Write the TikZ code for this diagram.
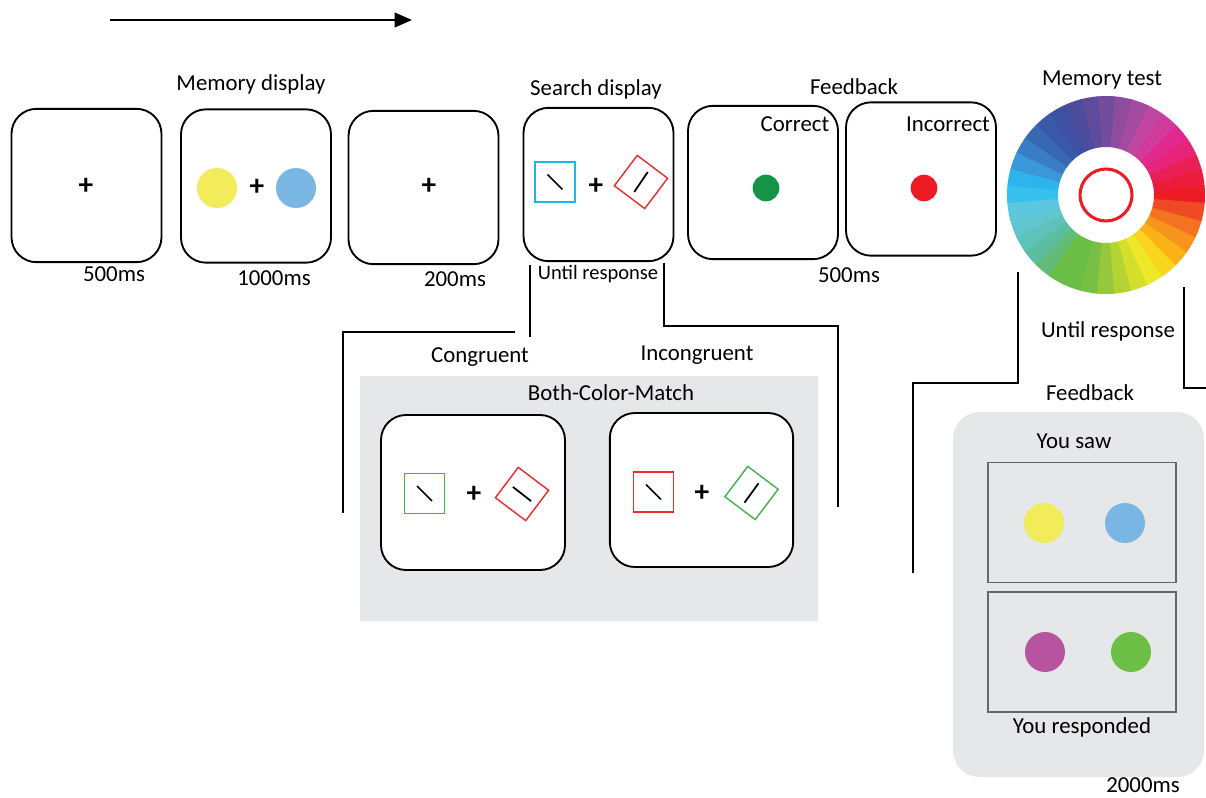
\documentclass[tikz,border=0pt]{standalone}
\usepackage{fontspec}
\setmainfont{Carlito}
\usetikzlibrary{arrows.meta}
\definecolor{memyellow}{HTML}{F2EC5B}
\definecolor{memblue}{HTML}{7AB6E3}
\definecolor{stimcyan}{HTML}{1FB5EA}
\definecolor{stimred}{HTML}{EE2B2E}
\definecolor{stimgreen}{HTML}{3FB54B}
\definecolor{okgreen}{HTML}{139447}
\definecolor{errred}{HTML}{ED1C24}
\definecolor{respmagenta}{HTML}{B8539F}
\definecolor{respgreen}{HTML}{6CBE45}
\definecolor{panelgray}{HTML}{E6E7E8}

\begin{document}
\begin{tikzpicture}[x=0.3mm,y=0.3mm,
	screen/.style={draw,line width=1.6pt,rounded corners=7.5mm,minimum width=45mm,minimum height=46mm,inner sep=0pt,fill=white},
	lbl/.style={font=\fontsize{19.5}{23}\selectfont,inner sep=0pt},
	fix/.style={font=\fontsize{25}{28}\selectfont\bfseries,inner sep=0pt},
	memdot/.style={circle,inner sep=0pt,minimum size=12mm},
	fbdot/.style={circle,inner sep=0pt,minimum size=8mm},
	stimsq/.style={draw,line width=1.2pt,minimum size=12mm,inner sep=0pt},
	stimdia/.style={stimsq,minimum size=11.4mm,rotate=-37},
	bar/.style={line width=1.5pt},
	wire/.style={line width=1.6pt},
	frame/.style={draw=black!60,line width=1.4pt,minimum width=56.4mm,minimum height=36mm,inner sep=0pt}]
	\useasboundingbox (0,0) rectangle (1206,-798);

	% time arrow
	\coordinate (tstart) at (110,-20);
	\coordinate (tend) at (412,-20);
	\draw[wire,-{Triangle[length=5.2mm,width=4.4mm]}] (tstart) -- (tend);

	% fixation
	\node[screen] (fixA) at (86.5,-185.5) {};
	\node[fix] (plusA) at (86,-186) {+};
	\node[lbl] (durA) at (114,-274) {500ms};

	% memory display
	\node[lbl] (lblmem) at (251,-84) {Memory display};
	\node[screen] (mem) at (256,-186) {};
	\node[memdot,fill=memyellow] (memL) at (217,-188) {};
	\node[fix] (plusB) at (257,-187) {+};
	\node[memdot,fill=memblue] (memR) at (296,-188) {};
	\node[lbl] (durB) at (274,-278) {1000ms};

	% delay
	\node[screen] (delay) at (423.5,-187.5) {};
	\node[fix] (plusC) at (429,-186) {+};
	\node[lbl] (durC) at (455,-279) {200ms};

	% search display
	\node[lbl] (lblsearch) at (596,-89) {Search display};
	\node[screen] (srch) at (598.5,-184.5) {};
	\node[stimsq,draw=stimcyan] (srchsq) at (555,-182) {};
	\draw[bar] (srchsq.center) ++(135:10.5) -- ++(-45:21);
	\node[fix] (plusD) at (596,-186) {+};
	\node[stimdia,draw=stimred] (srchdia) at (641,-182) {};
	\draw[bar] (srchdia.center) ++(236:12) -- ++(56:24);
	\node[lbl,font=\fontsize{17.5}{21}\selectfont] (durD) at (598,-274) {Until response};

	% feedback
	\node[lbl] (lblfb) at (854,-87) {Feedback};
	\node[screen] (fbok) at (763,-182.5) {};
	\node[lbl] (lblok) at (795,-124) {Correct};
	\node[fbdot,fill=okgreen] (dotok) at (766,-188) {};
	\node[screen] (fberr) at (921,-179) {};
	\node[lbl] (lblerr) at (948,-124) {Incorrect};
	\node[fbdot,fill=errred] (doterr) at (924,-188) {};
	\node[lbl] (durE) at (849,-275) {500ms};

	% memory test wheel
	\node[lbl] (lbltest) at (1102,-80) {Memory test};
	\coordinate (wheel) at (1106,-195);
	\begin{scope}[shift={(wheel)}]
		\foreach \a/\c in {0/ED1C24,10/EC1C3A,20/EA1F55,30/E8237A,40/E0288E,50/D1399A,
			60/C0469F,70/A54B9F,80/8E4C9F,90/744C9E,100/5E4B9D,110/4C4C9E,
			120/3F4FA2,130/3A58A8,140/3867B3,150/3A7DC4,160/3A98D8,170/2DB4EC,
			180/35C2EE,190/5CC8E0,200/62C6D0,210/5EC2BA,220/5BBEA0,230/63BB78,
			240/6ABD45,250/6ABD45,260/78C043,270/95C83D,280/B5D334,290/D4DF2B,
			300/EEE82A,310/F9D51D,320/FBB216,330/F7941D,340/F37321,350/EF4A23}{
			\definecolor{wc}{HTML}{\c}
			\fill[wc] (\a-5.3:48) arc[start angle=\a-5.3,end angle=\a+5.3,radius=48]
				-- (\a+5.3:99) arc[start angle=\a+5.3,end angle=\a-5.3,radius=99] -- cycle;
		}
	\end{scope}
	\draw[errred,line width=2.6pt] (wheel) circle[radius=26];
	\node[lbl] (durF) at (1108,-331) {Until response};

	% search conditions
	\node[lbl] (lblcong) at (480,-357) {Congruent};
	\node[lbl] (lblincong) at (697,-355) {Incongruent};
	\fill[panelgray] (360,-376) rectangle (818,-621);
	\node[lbl] (lblboth) at (611,-393) {Both-Color-Match};
	\node[screen,minimum width=55.2mm,minimum height=46.5mm] (cong) at (473,-492.5) {};
	\node[stimsq,draw=stimgreen] (congsq) at (424.5,-493.5) {};
	\draw[bar] (congsq.center) ++(135:10.5) -- ++(-45:21);
	\node[fix] (plusE) at (474,-494) {+};
	\node[stimdia,draw=stimred] (congdia) at (522,-494) {};
	\draw[bar] (congdia.center) ++(142:11.5) -- ++(-38:23);
	\node[screen,minimum width=55mm,minimum height=46.2mm] (incong) at (701.5,-490) {};
	\node[stimsq,draw=stimred] (incongsq) at (653.5,-492) {};
	\draw[bar] (incongsq.center) ++(135:10.5) -- ++(-45:21);
	\node[fix] (plusF) at (702,-493) {+};
	\node[stimdia,draw=stimgreen] (incongdia) at (751.5,-493) {};
	\draw[bar] (incongdia.center) ++(234:12) -- ++(54:24);

	% connectors from search display
	\coordinate (srchL) at (530,-265);
	\coordinate (congS) at (515,-332);
	\coordinate (congE) at (343,-513);
	\coordinate (srchR) at (664,-263);
	\coordinate (incongE) at (838,-507);
	\draw[wire] (srchL) -- ++(0,-72);
	\draw[wire] (congS) -| (congE);
	\draw[wire] (srchR) -- ++(0,-63) -| (incongE);

	% connectors from memory test
	\coordinate (testL) at (1018,-272);
	\coordinate (fbE) at (913,-573);
	\coordinate (testR) at (1184,-287);
	\coordinate (edgeR) at (1206,-388);
	\draw[wire] (testL) -- ++(0,-111) -| (fbE);
	\draw[wire] (testR) |- (edgeR);

	% final feedback
	\node[lbl] (lblfb2) at (1090,-393) {Feedback};
	\fill[panelgray,rounded corners=8mm] (953,-412) rectangle (1204,-777);
	\node[lbl] (lblsaw) at (1074,-441) {You saw};
	\node[frame] (sawbox) at (1082,-522.5) {};
	\node[memdot,fill=memyellow] (sawL) at (1044,-523) {};
	\node[memdot,fill=memblue] (sawR) at (1125,-523) {};
	\node[frame] (respbox) at (1082,-652) {};
	\node[memdot,fill=respmagenta] (respL) at (1045,-652) {};
	\node[memdot,fill=respgreen] (respR) at (1131,-652) {};
	\node[lbl] (lblresp) at (1082,-727) {You responded};
	\node[lbl] (durG) at (1143,-785) {2000ms};
\end{tikzpicture}
\end{document}
